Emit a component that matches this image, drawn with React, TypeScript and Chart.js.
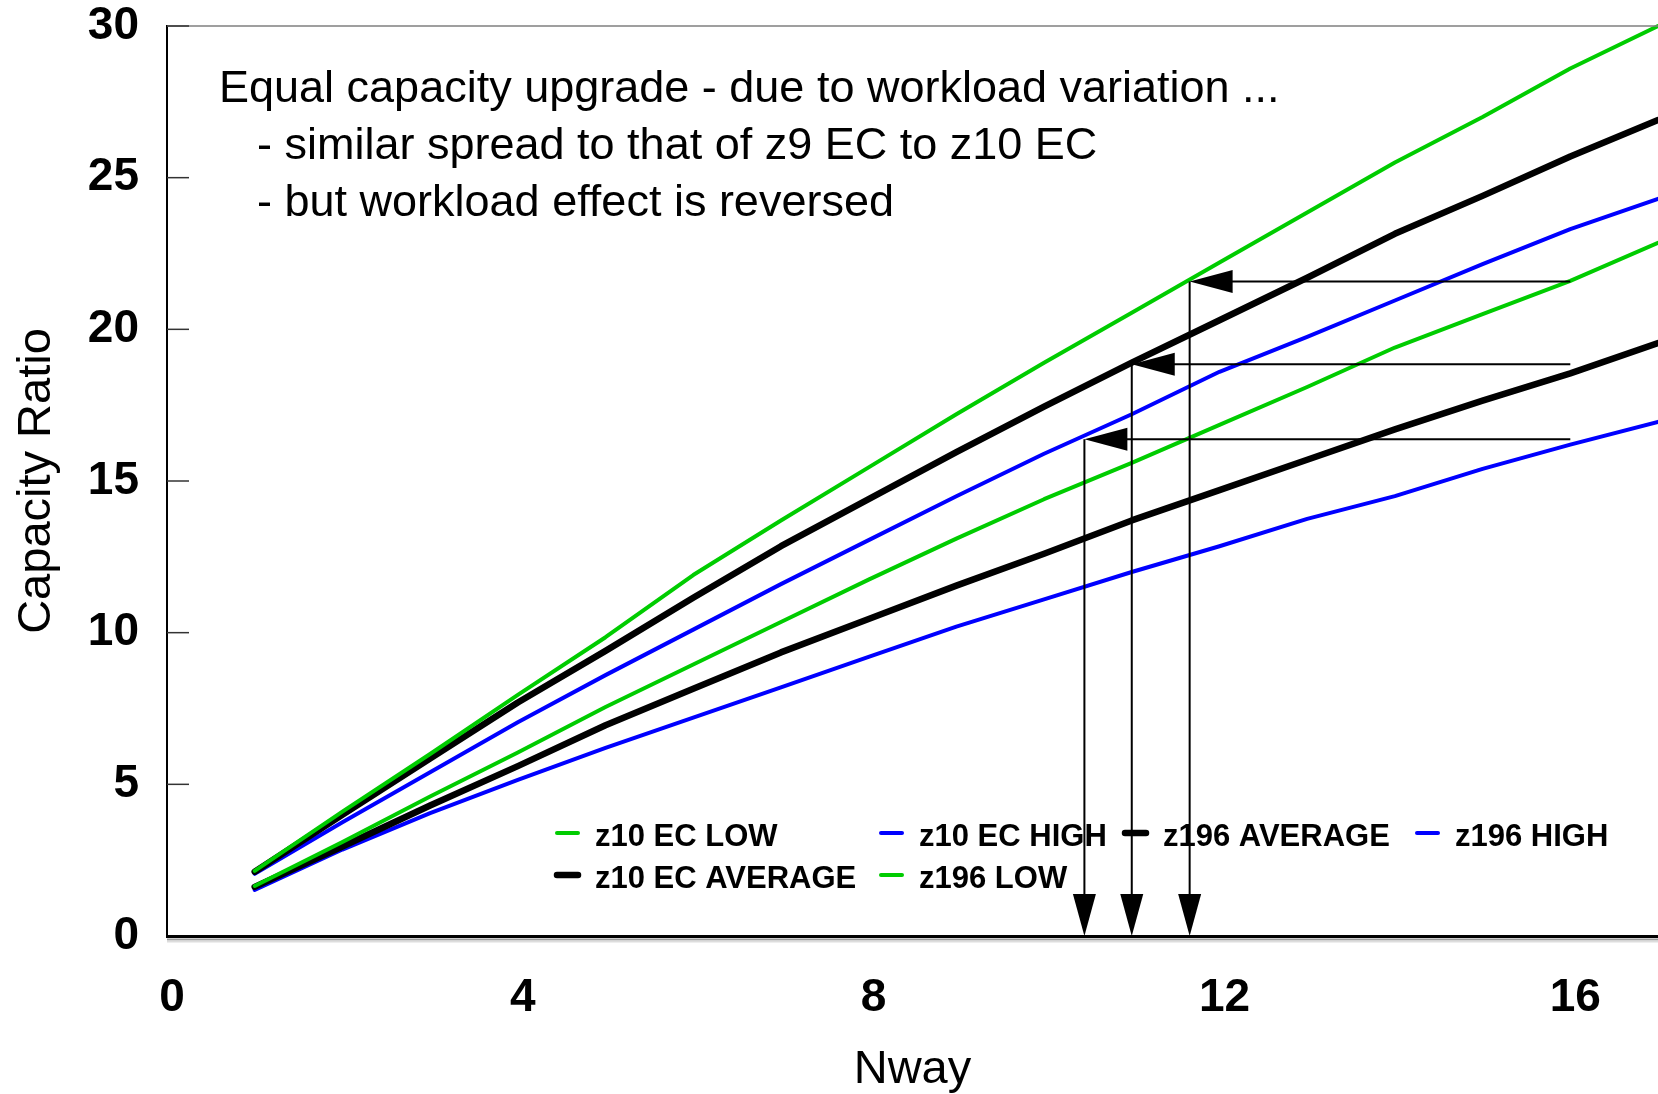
import React, { useEffect, useRef } from "react";
import { Chart, registerables } from "chart.js";

Chart.register(...registerables);

// ---------------- data ----------------
const NWAY = [1, 2, 3, 4, 5, 6, 7, 8, 9, 10, 11, 12, 13, 14, 15, 16, 17];

const Z10_EC_LOW = [1.65, 3.1, 4.6, 6.05, 7.55, 8.95, 10.35, 11.75, 13.1, 14.4, 15.6, 16.85, 18.1, 19.4, 20.5, 21.6, 22.85];
const Z10_EC_AVERAGE = [1.62, 2.95, 4.3, 5.6, 6.95, 8.15, 9.35, 10.45, 11.55, 12.6, 13.7, 14.7, 15.7, 16.7, 17.65, 18.55, 19.55];
const Z10_EC_HIGH = [1.52, 2.85, 4.05, 5.15, 6.2, 7.2, 8.2, 9.2, 10.2, 11.1, 12.0, 12.85, 13.75, 14.5, 15.4, 16.2, 16.95];
const Z196_LOW = [2.15, 4.1, 6.0, 7.95, 9.85, 11.9, 13.7, 15.45, 17.2, 18.9, 20.55, 22.2, 23.85, 25.5, 27.0, 28.6, 30.0];
const Z196_AVERAGE = [2.12, 4.0, 5.85, 7.7, 9.4, 11.15, 12.85, 14.4, 15.95, 17.45, 18.9, 20.3, 21.7, 23.15, 24.4, 25.7, 26.9];
const Z196_HIGH = [2.05, 3.75, 5.4, 7.05, 8.6, 10.1, 11.6, 13.05, 14.5, 15.9, 17.2, 18.6, 19.75, 20.95, 22.15, 23.3, 24.3];

const SERIES_LABELS = ["z10 EC LOW", "z10 EC AVERAGE", "z10 EC HIGH", "z196 LOW", "z196 AVERAGE", "z196 HIGH"];

const X_TICKS = [0, 4, 8, 12, 16];
const Y_TICKS = [0, 5, 10, 15, 20, 25, 30];
const X_MIN = 0;
const X_MAX = 17;
const Y_MIN = 0;
const Y_MAX = 30;

const X_TITLE = "Nway";
const Y_TITLE = "Capacity Ratio";

const NOTE_LINES = [
  "Equal capacity upgrade - due to workload variation ...",
  "- similar spread to that of z9 EC to z10 EC",
  "- but workload effect is reversed",
];

// equivalence arrows: from z10 EC at 16-way across to z196 Nway, then down to axis
const ARROW_FROM_X = [16, 16, 16];
const ARROW_TO_X = [11.66, 11.0, 10.46];
const ARROW_Y = [21.58, 18.85, 16.38];

// ---------------- styling ----------------
const FONT = '"Liberation Sans", Arial, Helvetica, sans-serif';
const GREEN = "#00CC00";
const BLUE = "#0000FF";
const BLACK = "#000000";

const SERIES_DATA = [Z10_EC_LOW, Z10_EC_AVERAGE, Z10_EC_HIGH, Z196_LOW, Z196_AVERAGE, Z196_HIGH];
const SERIES_COLORS = [GREEN, BLACK, BLUE, GREEN, BLACK, BLUE];
const SERIES_WIDTHS = [4, 6.5, 4, 4, 6.5, 4];

// legend layout (column-major as in the original): [datasetIndex, x, y]
const LEGEND_LAYOUT: [number, number, number][] = [
  [0, 555, 835],
  [1, 555, 877],
  [2, 879, 835],
  [3, 879, 877],
  [4, 1123, 835],
  [5, 1415, 835],
];

const overlayPlugin = {
  id: "overlay",
  afterDraw(chart: any) {
    const { ctx, chartArea: ca, scales } = chart;
    const xs = scales.x;
    const ys = scales.y;
    ctx.save();

    // top frame line
    ctx.strokeStyle = "#7f7f7f";
    ctx.lineWidth = 1.5;
    const yTop = ys.getPixelForValue(Y_MAX);
    ctx.beginPath();
    ctx.moveTo(ca.left, yTop);
    ctx.lineTo(ca.right, yTop);
    ctx.stroke();

    // shadow line below x axis
    const y0 = ys.getPixelForValue(Y_MIN);
    ctx.strokeStyle = "#9a9a9a";
    ctx.lineWidth = 2;
    ctx.beginPath();
    ctx.moveTo(ca.left, y0 + 3.5);
    ctx.lineTo(ca.right, y0 + 3.5);
    ctx.stroke();
    ctx.strokeStyle = "#dddddd";
    ctx.lineWidth = 2;
    ctx.beginPath();
    ctx.moveTo(ca.left, y0 + 5.5);
    ctx.lineTo(ca.right, y0 + 5.5);
    ctx.stroke();

    // inward y tick marks
    ctx.strokeStyle = "#333333";
    ctx.lineWidth = 1.5;
    for (const v of Y_TICKS) {
      if (v === Y_MIN) continue;
      const py = ys.getPixelForValue(v);
      ctx.beginPath();
      ctx.moveTo(ca.left, py);
      ctx.lineTo(ca.left + 22, py);
      ctx.stroke();
    }

    // arrows
    ctx.strokeStyle = BLACK;
    ctx.fillStyle = BLACK;
    ctx.lineWidth = 2;
    for (let i = 0; i < ARROW_TO_X.length; i++) {
      const px0 = xs.getPixelForValue(ARROW_FROM_X[i]);
      const px1 = xs.getPixelForValue(ARROW_TO_X[i]);
      const py = ys.getPixelForValue(ARROW_Y[i]);
      ctx.beginPath();
      ctx.moveTo(px0, py);
      ctx.lineTo(px1 + 20, py);
      ctx.stroke();
      ctx.beginPath();
      ctx.moveTo(px1, py);
      ctx.lineTo(px1 + 43, py - 11.5);
      ctx.lineTo(px1 + 43, py + 11.5);
      ctx.closePath();
      ctx.fill();
      ctx.beginPath();
      ctx.moveTo(px1, py);
      ctx.lineTo(px1, y0 - 20);
      ctx.stroke();
      ctx.beginPath();
      ctx.moveTo(px1, y0);
      ctx.lineTo(px1 - 11.5, y0 - 42);
      ctx.lineTo(px1 + 11.5, y0 - 42);
      ctx.closePath();
      ctx.fill();
    }

    // note text
    ctx.fillStyle = BLACK;
    ctx.font = `45px ${FONT}`;
    ctx.textAlign = "left";
    ctx.textBaseline = "alphabetic";
    ctx.fillText(NOTE_LINES[0], 219, 102);
    ctx.fillText(NOTE_LINES[1], 257, 159);
    ctx.fillText(NOTE_LINES[2], 257, 216);

    // legend
    ctx.font = `bold 31px ${FONT}`;
    ctx.lineCap = "round";
    for (const [di, lx, ly] of LEGEND_LAYOUT) {
      const ds = chart.data.datasets[di];
      ctx.strokeStyle = ds.borderColor;
      ctx.lineWidth = ds.borderWidth;
      ctx.beginPath();
      ctx.moveTo(lx + 2, ly - 2);
      ctx.lineTo(lx + 23, ly - 2);
      ctx.stroke();
      ctx.fillStyle = BLACK;
      ctx.fillText(ds.label, lx + 40, ly + 11);
    }

    ctx.restore();
  },
};

export default function App() {
  const canvasRef = useRef<HTMLCanvasElement | null>(null);

  useEffect(() => {
    const canvas = canvasRef.current;
    if (!canvas) return;

    const datasets = SERIES_DATA.map((vals, i) => ({
      label: SERIES_LABELS[i],
      data: NWAY.map((n, k) => ({ x: n, y: vals[k] })),
      borderColor: SERIES_COLORS[i],
      backgroundColor: SERIES_COLORS[i],
      borderWidth: SERIES_WIDTHS[i],
      pointRadius: 0,
      tension: 0,
      borderCapStyle: "round" as const,
      borderJoinStyle: "round" as const,
      clip: false as any,
    }));

    const chart = new Chart(canvas, {
      type: "line",
      data: { datasets },
      options: {
        responsive: false,
        animation: false,
        devicePixelRatio: 1,
        layout: { padding: { top: 26, right: 0, bottom: 0, left: 0 } },
        plugins: {
          legend: { display: false },
          tooltip: { enabled: false },
        },
        scales: {
          x: {
            type: "linear",
            min: X_MIN,
            max: X_MAX,
            afterBuildTicks: (axis: any) => {
              axis.ticks = X_TICKS.map((v) => ({ value: v }));
            },
            afterFit: (axis: any) => {
              axis.height = 158;
              axis.paddingLeft = 0;
              axis.paddingRight = 0;
            },
            grid: { display: false, drawTicks: false },
            border: { display: true, color: BLACK, width: 3 },
            ticks: {
              color: BLACK,
              padding: 35,
              labelOffset: 5,
              maxRotation: 0,
              autoSkip: false,
              font: { family: FONT, size: 46, weight: "bold" },
            },
            title: {
              display: true,
              text: X_TITLE,
              color: BLACK,
              font: { family: FONT, size: 47, lineHeight: 1 },
              padding: { top: 0, bottom: 0 },
            },
          },
          y: {
            type: "linear",
            min: Y_MIN,
            max: Y_MAX,
            afterBuildTicks: (axis: any) => {
              axis.ticks = Y_TICKS.map((v) => ({ value: v }));
            },
            afterFit: (axis: any) => {
              axis.width = 167;
              axis.paddingTop = 0;
              axis.paddingBottom = 0;
            },
            grid: { display: false, drawTicks: false },
            border: { display: true, color: BLACK, width: 2 },
            ticks: {
              color: BLACK,
              padding: 28,
              autoSkip: false,
              font: { family: FONT, size: 46, weight: "bold" },
            },
            title: {
              display: true,
              text: Y_TITLE,
              color: BLACK,
              font: { family: FONT, size: 47, lineHeight: 1.2 },
              padding: { top: 9, bottom: 0 },
            },
          },
        },
      },
      plugins: [overlayPlugin],
    });

    return () => chart.destroy();
  }, []);

  return (
    <div
      style={{
        position: "fixed",
        left: 0,
        top: 0,
        width: 1658,
        height: 1094,
        background: "#ffffff",
      }}
    >
      <canvas ref={canvasRef} width={1658} height={1094} style={{ display: "block" }} />
    </div>
  );
}
